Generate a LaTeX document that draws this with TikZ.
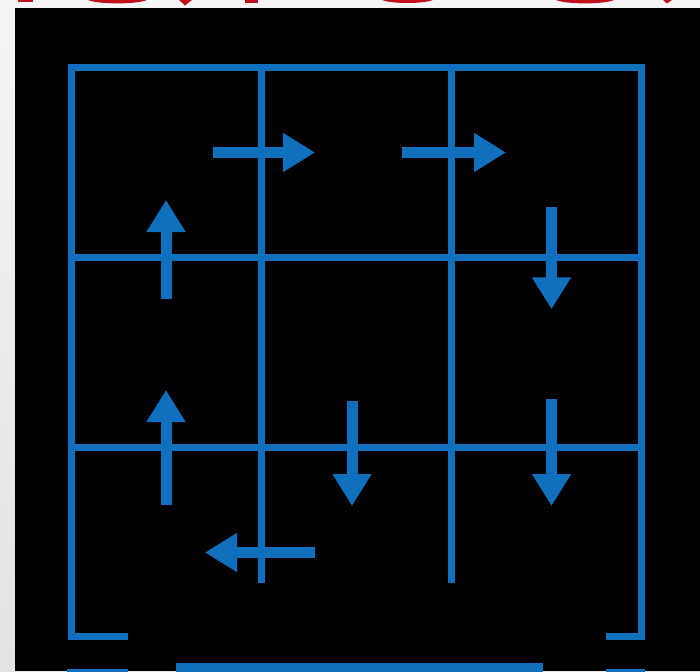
\documentclass[tikz,border=0pt]{standalone}
\usetikzlibrary{arrows.meta,shadings}
\definecolor{gridblue}{HTML}{1170BE}
\definecolor{titlered}{HTML}{C0101A}
\tikzset{
  gridline/.style={draw=gridblue,line width=7pt},
  flowarrow/.style={draw=gridblue,line width=11pt,-{Triangle[length=32pt,width=37pt]}},
  redbit/.style={fill=titlered,draw=none},
  bluebit/.style={fill=gridblue,draw=none}
}
\begin{document}
\begin{tikzpicture}[x=1pt,y=-1pt]
\useasboundingbox (0,0) rectangle (700,671);
\clip (0,0) rectangle (700,671);
% background
\shade[top color=gray!8,bottom color=gray!22] (0,0) rectangle (700,671);
\fill[black] (15,8) rectangle (700,671);
% red fragments of cut-off title
\fill[redbit] (18,0) rectangle (33,2.5);
\fill[redbit] (88,0) .. controls (98,4.5) and (137,4.5) .. (147,0) -- cycle;
\fill[redbit] (179,0) -- (185,5.5) -- (192,0) -- cycle;
\fill[redbit] (245,0) rectangle (258,3.5);
\fill[redbit] (382,0) .. controls (392,4) and (423,4) .. (433,0) -- cycle;
\fill[redbit] (556,0) .. controls (566,4.5) and (604,4.5) .. (614,0) -- cycle;
\fill[redbit] (663,0) -- (667,3.5) -- (672,0) -- cycle;
% frame
\coordinate (fl) at (127.7,636);
\coordinate (bl) at (71,636);
\coordinate (tl) at (71,67.5);
\coordinate (tr) at (641,67.5);
\coordinate (br) at (641,636);
\coordinate (fr) at (606,636);
\draw[gridline,line join=miter] (fl) -- (bl) -- (tl) -- (tr) -- (br) -- (fr);
% inner grid
\coordinate (v1t) at (261,67.5); \coordinate (v1b) at (261,582.7);
\coordinate (v2t) at (451,67.5); \coordinate (v2b) at (451,582.7);
\coordinate (h1l) at (71,257); \coordinate (h1r) at (641,257);
\coordinate (h2l) at (71,447); \coordinate (h2r) at (641,447);
\draw[gridline] (v1t) -- (v1b);
\draw[gridline] (v2t) -- (v2b);
\draw[gridline] (h1l) -- (h1r);
\draw[gridline] (h2l) -- (h2r);
% bottom pieces (cut off)
\fill[bluebit] (67,669) rectangle (127.7,680);
\fill[bluebit] (606,669) rectangle (644.7,680);
\fill[bluebit] (176,662.7) rectangle (543,680);
% arrows
\coordinate (a1s) at (212.7,152.5); \coordinate (a1e) at (315,152.5);
\coordinate (a2s) at (402,152.5); \coordinate (a2e) at (506,152.5);
\coordinate (a3s) at (166,299.3); \coordinate (a3e) at (166,200);
\coordinate (a4s) at (551.5,206.7); \coordinate (a4e) at (551.5,309.3);
\coordinate (a5s) at (166,505); \coordinate (a5e) at (166,390);
\coordinate (a6s) at (352,401); \coordinate (a6e) at (352,506);
\coordinate (a7s) at (551.5,399); \coordinate (a7e) at (551.5,506);
\coordinate (a8s) at (315,552.5); \coordinate (a8e) at (205,552.5);
\draw[flowarrow] (a1s) -- (a1e);
\draw[flowarrow] (a2s) -- (a2e);
\draw[flowarrow] (a3s) -- (a3e);
\draw[flowarrow] (a4s) -- (a4e);
\draw[flowarrow] (a5s) -- (a5e);
\draw[flowarrow] (a6s) -- (a6e);
\draw[flowarrow] (a7s) -- (a7e);
\draw[flowarrow] (a8s) -- (a8e);
\end{tikzpicture}
\end{document}
